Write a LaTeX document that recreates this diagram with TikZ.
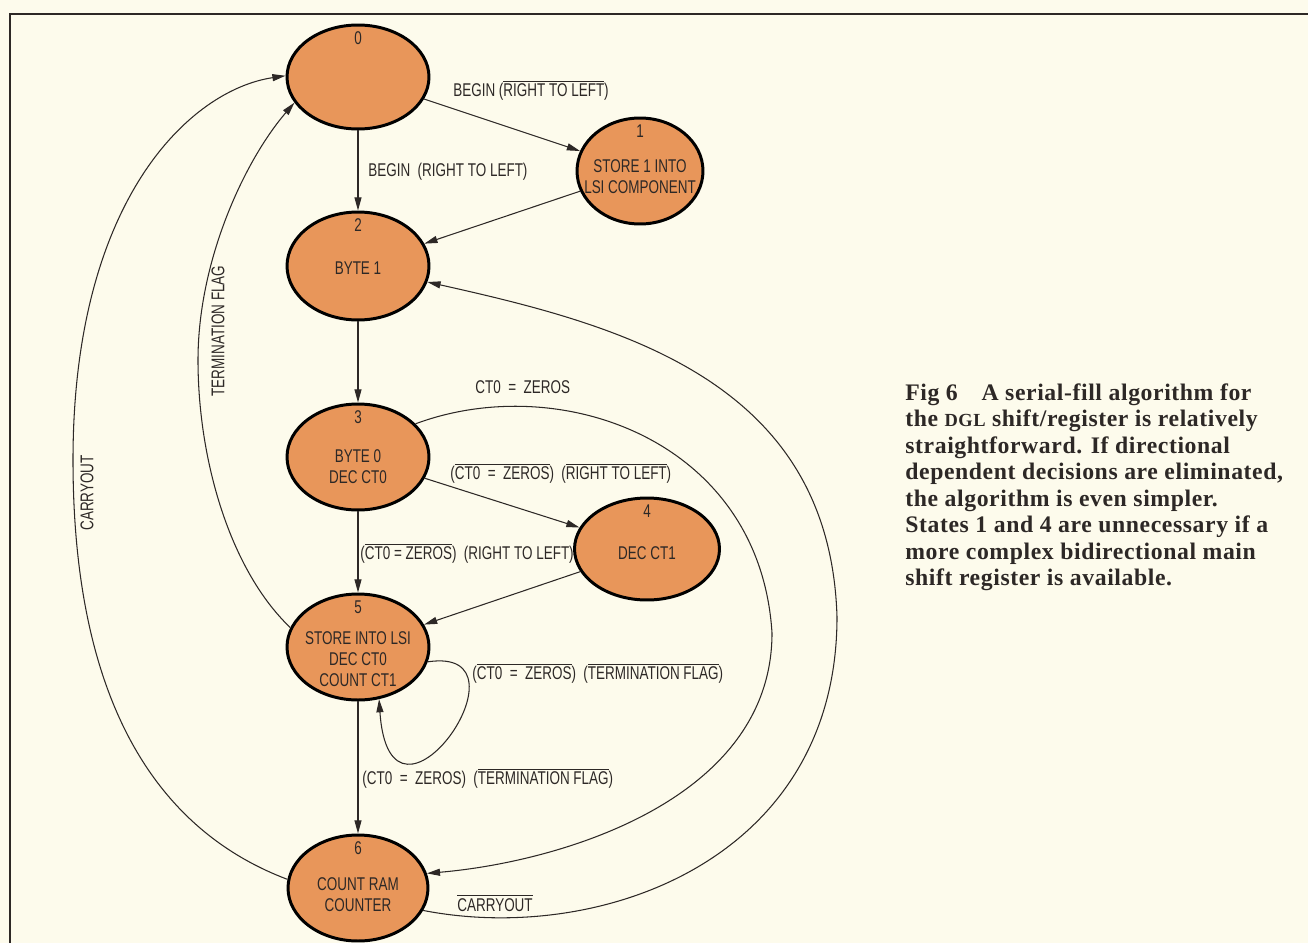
\documentclass[tikz,border=0pt]{standalone}
\usepackage{fontspec}
\usepackage{tikz}
\usepackage{xcolor}
\setmainfont{Liberation Serif}
\newfontfamily\condsans[FakeStretch=0.73]{Liberation Sans}
\newfontfamily\capserif[LetterSpace=2.5]{Liberation Serif}
\usetikzlibrary{shapes.geometric,arrows.meta,positioning}

\definecolor{paper}{RGB}{253,251,236}
\definecolor{stateorange}{RGB}{232,150,90}
\definecolor{ink}{RGB}{45,40,38}

\newcommand{\ovl}[1]{$\overline{\mbox{#1}}$}

\begin{document}
\begin{tikzpicture}[x=0.02cm, y=-0.02cm,
  >={Triangle[length=7.5pt,width=4pt]},
  state/.style={ellipse, draw=black, line width=1.7pt, fill=stateorange,
    minimum width=2.84cm, minimum height=2.12cm, inner sep=0pt},
  numtag/.style={anchor=north, yshift=-1.2pt, text=ink,
    font=\condsans\fontsize{10.5}{12}\selectfont},
  statetext/.style={align=center, inner sep=0pt, text=ink,
    font=\condsans\fontsize{10.5}{12}\selectfont},
  cond/.style={anchor=west, inner sep=0pt, text=ink,
    font=\condsans\fontsize{10.5}{12}\selectfont},
  link/.style={->, draw=ink, line width=0.6pt},
  frameline/.style={draw=ink, line width=1.5pt}]

  \useasboundingbox (0,0) rectangle (1308,943);
  \fill[paper] (0,0) rectangle (1308,943);
  \draw[frameline] (10,943) -- (10,14) -- (1308,14);

  % states
  \node[state, label={[numtag]north:0}, minimum height=2.08cm] (s0) at (358,77) {};
  \node[state, label={[numtag]north:1}, minimum width=2.52cm] (s1) at (640,171) {};
  \node[state, label={[numtag]north:2}, minimum height=2.16cm] (s2) at (358,266) {};
  \node[state, label={[numtag]north:3}] (s3) at (358,457) {};
  \node[state, label={[numtag]north:4}, minimum width=2.9cm, minimum height=2.04cm] (s4) at (647,549) {};
  \node[state, label={[numtag]north:5}] (s5) at (358,647) {};
  \node[state, label={[numtag]north:6}, minimum width=2.8cm] (s6) at (358,888) {};

  \node[statetext] (t1) at (640,177) {STORE 1 INTO\\LSI COMPONENT};
  \node[statetext] (t2) at (358,268) {BYTE 1};
  \node[statetext] (t3) at (358,467) {BYTE 0\\DEC CT0};
  \node[statetext] (t4) at (647,553) {DEC CT1};
  \node[statetext] (t5) at (358,659) {STORE INTO LSI\\DEC CT0\\COUNT CT1};
  \node[statetext] (t6) at (358,895) {COUNT RAM\\COUNTER};

  % transitions
  \draw[link] (s0) -- (s1);
  \draw[link] (s0) -- (s2);
  \draw[link] (s1) -- (s2);
  \draw[link] (s2) -- (s3);
  \draw[link] (s3) -- (s4);
  \draw[link] (s3) -- (s5);
  \draw[link] (s4) -- (s5);
  \draw[link] (s5) -- (s6);
  \draw[link] (s5.-12) .. controls (540,645) and (390,860) .. (s5.-68);
  \draw[link] (s3.30) .. controls (560,370) and (760,440) .. (772,633)
    .. controls (772,800) and (560,862) .. (s6.12);
  \draw[link] (s6.-19) .. controls (600,945) and (837,860) .. (837,617)
    .. controls (830,380) and (620,325) .. (s2.-13);
  \draw[link] (s6.173) .. controls (170,835) and (73,720) .. (73,460)
    .. controls (73,200) and (190,90) .. (s0.179);
  \draw[link] (s5.164) .. controls (230,570) and (198,460) .. (198,360)
    .. controls (198,260) and (245,160) .. (s0.202);

  % conditions
  \node[cond] (c01) at (453,90) {BEGIN (\ovl{RIGHT TO LEFT})};
  \node[cond] (c02) at (368,172) {BEGIN~~(RIGHT TO LEFT)};
  \node[cond] (c36) at (475,387) {CT0~~=~~ZEROS};
  \node[cond] (c34) at (450,473) {(\ovl{CT0~~=~~ZEROS})~~(\ovl{RIGHT TO LEFT})};
  \node[cond] (c35) at (360,553) {(\ovl{CT0~=~ZEROS})~~(RIGHT TO LEFT)};
  \node[cond] (c55) at (472,673) {(\ovl{CT0~~=~~ZEROS})~~(\ovl{TERMINATION FLAG})};
  \node[cond] (c56) at (362,778) {(CT0~~=~~ZEROS)~~(\ovl{TERMINATION FLAG})};
  \node[cond] (c62) at (457,903) {\ovl{CARRYOUT}};
  \node[cond, anchor=center, rotate=90] (c50) at (218,331) {TERMINATION FLAG};
  \node[cond, anchor=center, rotate=90] (c60) at (87,493) {CARRYOUT};

  % caption
  \node[anchor=north west, inner sep=0pt, align=left, text=ink,
    font=\capserif\bfseries\fontsize{13.5}{15.1}\selectfont] (caption) at (905,383)
    {Fig 6\quad A serial-fill algorithm for\\
     the {\fontsize{10.5}{12}\selectfont DGL} shift/register is relatively\\
     straightforward. If directional\\
     dependent decisions are eliminated,\\
     the algorithm is even simpler.\\
     States 1 and 4 are unnecessary if a\\
     more complex bidirectional main\\
     shift register is available.};
\end{tikzpicture}
\end{document}
